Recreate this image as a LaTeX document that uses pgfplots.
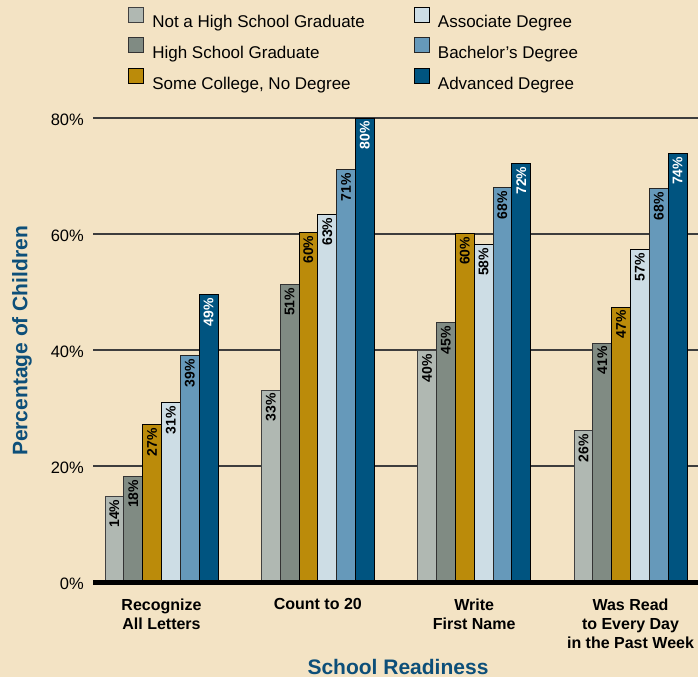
\documentclass[border=0pt]{standalone}
\usepackage{pgfplots}
\usepackage{pgfplotstable}
\pgfplotsset{compat=1.18}
\usepackage{fontspec}
\setmainfont{Liberation Sans}
\definecolor{bg}{HTML}{F3E3C4}
\definecolor{cNH}{HTML}{B0B8B2}
\definecolor{cHS}{HTML}{808B83}
\definecolor{cSC}{HTML}{BB8B0A}
\definecolor{cAS}{HTML}{CDDDE5}
\definecolor{cBA}{HTML}{6699BA}
\definecolor{cAD}{HTML}{005480}
\definecolor{tblue}{HTML}{0D4F79}
\definecolor{gridc}{HTML}{3D3D3D}
\pgfplotstableread{
x nh nhl hs hsl sc scl as asl ba bal ad adl
0 14.8 14 18.2 18 27.1 27 30.9 31 39.0 39 49.5 49
1 33.1 33 51.3 51 60.3 60 63.4 63 71.1 71 80.0 80
2 39.9 40 44.7 45 60.1 60 58.2 58 68.0 68 72.2 72
3 26.1 26 41.2 41 47.4 47 57.3 57 67.8 68 73.9 74
}\datatable
\begin{document}
\begin{tikzpicture}
\useasboundingbox (0,0) rectangle (698pt,677pt);
\clip (0,0) rectangle (698pt,677pt);
\fill[bg] (0,0) rectangle (698pt,677pt);
\begin{axis}[
  at={(93pt,95pt)}, anchor=south west,
  scale only axis, width=605pt, height=464pt,
  xmin=-0.4382, xmax=3.4318, ymin=0, ymax=80,
  clip=false,
  ybar=0pt, bar width=18.83pt,
  axis line style={draw=none},
  tick style={draw=none},
  major tick length=0pt,
  ytick={0,20,40,60,80},
  yticklabel={\pgfmathprintnumber{\tick}\%},
  /pgf/number format/assume math mode=true,
  yticklabel style={font=\fontsize{16.5}{18}\selectfont, anchor=east, inner sep=0pt, xshift=-9pt, yshift=-2pt},
  ymajorgrids,
  grid style={gridc, line width=1.3pt},
  xtick={0,1,2,3},
  xticklabels={{Recognize\\All Letters},{Count to 20},{Write\\First Name},{Was Read\\to Every Day\\in the Past Week}},
  xticklabel style={font=\fontsize{16}{19}\selectfont\bfseries, align=center, anchor=north, inner sep=0pt, yshift=-16.5pt},
  point meta=explicit symbolic,
  nodes near coords={\pgfplotspointmeta\%},
  every node near coord/.append style={font=\fontsize{14}{15}\selectfont\bfseries, rotate=90, anchor=east, inner sep=3pt},
  legend image code/.code={\draw[#1, line width=1pt] (0pt,0pt) rectangle (15pt,15pt);},
  legend columns=3, transpose legend,
  legend style={draw=none, fill=none, inner sep=0pt, outer sep=0pt,
    at={(axis description cs:0.05835,1.24)}, anchor=north west,
    font=\fontsize{17}{20}\selectfont,
    row sep=5.8pt, column sep=8pt,
    nodes={inner sep=0pt, text height=15pt, text depth=4pt},
    /tikz/every even column/.append style={column sep=49pt}},
  legend cell align=left,
]
\addplot[fill=cNH, draw=black!75, line width=0.9pt] table[x=x, y=nh, meta=nhl] {\datatable};
\addplot[fill=cHS, draw=black!80, line width=0.9pt] table[x=x, y=hs, meta=hsl] {\datatable};
\addplot[fill=cSC, draw=black, line width=0.9pt] table[x=x, y=sc, meta=scl] {\datatable};
\addplot[fill=cAS, draw=black, line width=0.9pt] table[x=x, y=as, meta=asl] {\datatable};
\addplot[fill=cBA, draw=black!85, line width=0.9pt] table[x=x, y=ba, meta=bal] {\datatable};
\addplot[fill=cAD, draw=black, line width=0.9pt, every node near coord/.append style={text=white}] table[x=x, y=ad, meta=adl] {\datatable};
\legend{Not a High School Graduate, High School Graduate, {Some College, No Degree}, Associate Degree, Bachelor’s Degree, Advanced Degree}
\draw[black, line width=5pt] (rel axis cs:0,0) -- (rel axis cs:1,0);
\end{axis}
\node[rotate=90, anchor=base, text=tblue, font=\fontsize{21}{23}\selectfont\bfseries] at (27.3pt,336pt) {Percentage of Children};
\node[anchor=base, text=tblue, font=\fontsize{21}{23}\selectfont\bfseries] at (398pt,3pt) {School Readiness};
\end{tikzpicture}
\end{document}
